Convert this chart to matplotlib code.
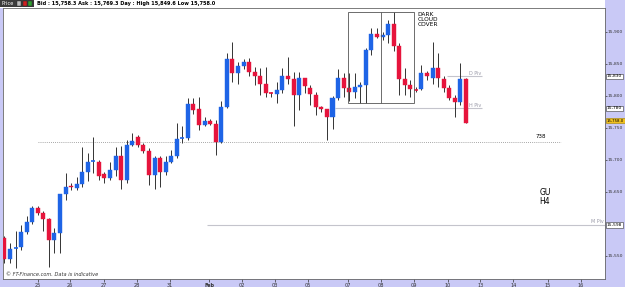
import matplotlib
matplotlib.use("Agg")
import matplotlib.pyplot as plt
from matplotlib.patches import Rectangle
import numpy as np

# H4 candles, GU
opens = [15578, 15545, 15562, 15563, 15587, 15603, 15625, 15617, 15607, 15574,
         15585, 15646, 15659, 15656, 15662, 15680, 15697, 15697, 15677, 15672,
         15684, 15705, 15668, 15723, 15735, 15723, 15714, 15676, 15702, 15681,
         15697, 15705, 15733, 15734, 15787, 15779, 15754, 15760, 15756, 15728,
         15783, 15858, 15835, 15847, 15853, 15837, 15831, 15819, 15804, 15803,
         15809, 15830, 15826, 15801, 15828, 15812, 15801, 15782, 15779, 15766,
         15796, 15828, 15812, 15806, 15814, 15817, 15871, 15896, 15892, 15895,
         15912, 15878, 15826, 15817, 15810, 15811, 15835, 15827, 15843, 15826,
         15812, 15796, 15790, 15826]
highs = [15580, 15570, 15589, 15598, 15612, 15628, 15628, 15619, 15609, 15593,
         15647, 15679, 15663, 15673, 15720, 15711, 15735, 15700, 15681, 15697,
         15720, 15722, 15731, 15741, 15738, 15726, 15718, 15705, 15705, 15705,
         15715, 15757, 15752, 15796, 15796, 15798, 15767, 15763, 15762, 15791,
         15866, 15884, 15853, 15858, 15859, 15845, 15843, 15845, 15806, 15822,
         15843, 15861, 15837, 15837, 15828, 15817, 15806, 15784, 15779, 15800,
         15841, 15835, 15835, 15835, 15822, 15874, 15905, 15905, 15900, 15918,
         15931, 15882, 15843, 15825, 15813, 15848, 15838, 15884, 15866, 15830,
         15817, 15801, 15851, 15827]
lows = [15538, 15538, 15530, 15559, 15584, 15600, 15613, 15589, 15533, 15554,
        15554, 15637, 15652, 15652, 15658, 15666, 15679, 15668, 15663, 15668,
        15674, 15654, 15663, 15722, 15720, 15710, 15660, 15654, 15658, 15676,
        15694, 15702, 15726, 15731, 15772, 15746, 15752, 15754, 15707, 15726,
        15780, 15822, 15819, 15842, 15830, 15817, 15801, 15798, 15798, 15788,
        15804, 15819, 15752, 15778, 15804, 15785, 15770, 15775, 15731, 15748,
        15793, 15798, 15791, 15796, 15788, 15788, 15864, 15890, 15887, 15882,
        15870, 15801, 15801, 15798, 15805, 15809, 15825, 15819, 15814, 15806,
        15793, 15767, 15785, 15757]
closes = [15545, 15561, 15563, 15587, 15603, 15625, 15617, 15607, 15574, 15585,
          15646, 15658, 15657, 15662, 15680, 15697, 15698, 15675, 15672, 15684,
          15706, 15668, 15723, 15729, 15723, 15714, 15676, 15702, 15681, 15697,
          15705, 15733, 15734, 15787, 15778, 15754, 15760, 15756, 15728, 15783,
          15858, 15835, 15847, 15853, 15837, 15831, 15819, 15804, 15803, 15809,
          15830, 15826, 15801, 15828, 15815, 15802, 15782, 15779, 15766, 15796,
          15828, 15812, 15806, 15814, 15817, 15871, 15896, 15892, 15895, 15912,
          15878, 15826, 15817, 15810, 15809, 15835, 15830, 15843, 15827, 15812,
          15796, 15790, 15826, 15758]

day_labels = ["25", "26", "27", "28", "31", "Feb", "02", "03", "05", "07",
              "08", "09", "10", "13", "14", "15", "16"]
day_pos = [6.0, 11.8, 17.9, 23.9, 29.8, 36.8, 42.7, 48.7, 54.6, 61.7,
           67.7, 73.7, 79.8, 85.6, 91.5, 97.7, 103.6]
price_ticks = [15550, 15650, 15700, 15750, 15800, 15850, 15900]

d_piv = 15830
h_piv = 15780
m_piv = 15598
level_738 = 15728
last_price = 15758.0

blue = "#1e64e6"
red = "#e6143c"
lav = "#c9c9f6"

fig = plt.figure(figsize=(6.25, 2.87), dpi=100, facecolor=lav)
W, H = 625.0, 287.0
ax = fig.add_axes([3 / W, 8 / H, 602 / W, 271 / H])
ax.set_facecolor("white")

# candles
for i in range(len(opens)):
    o, h, l, c = opens[i], highs[i], lows[i], closes[i]
    col = blue if c >= o else red
    ax.vlines(i, l, h, color="#333333", lw=0.7, zorder=2)
    lo, hi = min(o, c), max(o, c)
    if hi - lo < 1.5:
        ax.hlines((o + c) / 2, i - 0.36, i + 0.36, color=col, lw=1.2, zorder=3)
    else:
        ax.add_patch(Rectangle((i - 0.36, lo), 0.72, hi - lo, facecolor=col,
                               edgecolor=col, lw=0.3, zorder=3))

# pivot / level lines
ax.hlines(level_738, 6, 100, color="#8a8a8a", lw=0.6, linestyles=(0, (1, 1.5)), zorder=1)
ax.text(95.5, level_738 + 4, "738", fontsize=4, color="black", ha="left", va="bottom")
ax.hlines(d_piv, 79.6, 85.8, color="#c4c4cc", lw=0.8, zorder=1)
ax.text(85.7, d_piv + 1, "D Piv", fontsize=3.5, color="#9a9aa8", ha="right", va="bottom")
ax.hlines(h_piv, 59.5, 85.8, color="#c4c4cc", lw=0.8, zorder=1)
ax.text(85.7, h_piv + 1, "H Piv", fontsize=3.5, color="#9a9aa8", ha="right", va="bottom")
ax.hlines(m_piv, 36.5, 108, color="#c4c4cc", lw=0.8, zorder=1)
ax.text(107.7, m_piv + 1, "M Piv", fontsize=3.5, color="#9a9aa8", ha="right", va="bottom")

# dark cloud cover box
ax.add_patch(Rectangle((61.7, 15788), 12.0, 142, fill=False, edgecolor="#555555", lw=0.6, zorder=4))
ax.vlines(67.7, 15788, 15930, color="#555555", lw=0.6, zorder=4)
ax.text(74.3, 15930, "DARK\nCLOUD\nCOVER", fontsize=4.2, ha="left", va="top", linespacing=1.0)

ax.text(97.2, 15655, "GU\nH4", fontsize=5.5, ha="center", va="top", linespacing=1.0)
ax.text(0.2, 15516, "\u00a9 FT-Finance.com. Data is indicative", fontsize=3.6,
        style="italic", ha="left", va="bottom", color="#333333")

ax.set_xlim(-0.25, 108)
ax.set_ylim(15513.5, 15937)
ax.yaxis.tick_right()
ax.set_yticks(price_ticks)
ax.set_yticklabels(["{:,}".format(p) for p in price_ticks])
ax.set_xticks(day_pos)
ax.set_xticklabels(day_labels)
ax.tick_params(axis="x", labelsize=3.6, length=2, width=0.5, pad=1, colors="#333333")
ax.tick_params(axis="y", labelsize=3.2, length=1.5, width=0.5, pad=0.5, colors="#333333")
for lbl in ax.get_xticklabels():
    if lbl.get_text() == "Feb":
        lbl.set_fontweight("bold")
for s in ax.spines.values():
    s.set_color("#666666")
    s.set_linewidth(0.6)

# right price boxes
box_style = dict(boxstyle="square,pad=0.15", fc="white", ec="#333333", lw=0.4)
for val, txt in [(d_piv, "15,830"), (h_piv, "15,780"), (m_piv, "15,598")]:
    ax.text(108.35, val, txt, fontsize=3.2, ha="left", va="center", bbox=box_style,
            clip_on=False, zorder=5)
ax.text(108.35, last_price + 3, "15,758.0", fontsize=2.8, ha="left", va="center",
        clip_on=False, zorder=5,
        bbox=dict(boxstyle="square,pad=0.15", fc="#f0c020", ec="#a08000", lw=0.4))

# top toolbar
fig.patches.append(Rectangle((0, 1 - 8 / H), 605 / W, 8 / H, transform=fig.transFigure,
                             facecolor="white", edgecolor="none", zorder=0))
fig.patches.append(Rectangle((0, 1 - 7 / H), 34 / W, 7 / H, transform=fig.transFigure,
                             facecolor="#3a3a3a", edgecolor="none", zorder=1))
for x0, c in [(17, "#bbbbbb"), (23, "#d02020"), (28, "#30a030")]:
    fig.patches.append(Rectangle((x0 / W, 1 - 6 / H), 4 / W, 5 / H, transform=fig.transFigure,
                                 facecolor=c, edgecolor="#222222", lw=0.3, zorder=2))
fig.text(2 / W, 1 - 3.5 / H, "Price", fontsize=3.6, color="white", va="center", ha="left")
fig.text(37 / W, 1 - 3.5 / H, "Bid : 15,758.3 Ask : 15,769.3 Day : High 15,849.6 Low 15,758.0",
         fontsize=3.6, fontweight="bold", color="black", va="center", ha="left")

fig.savefig("out.png", dpi=100, facecolor=lav)
